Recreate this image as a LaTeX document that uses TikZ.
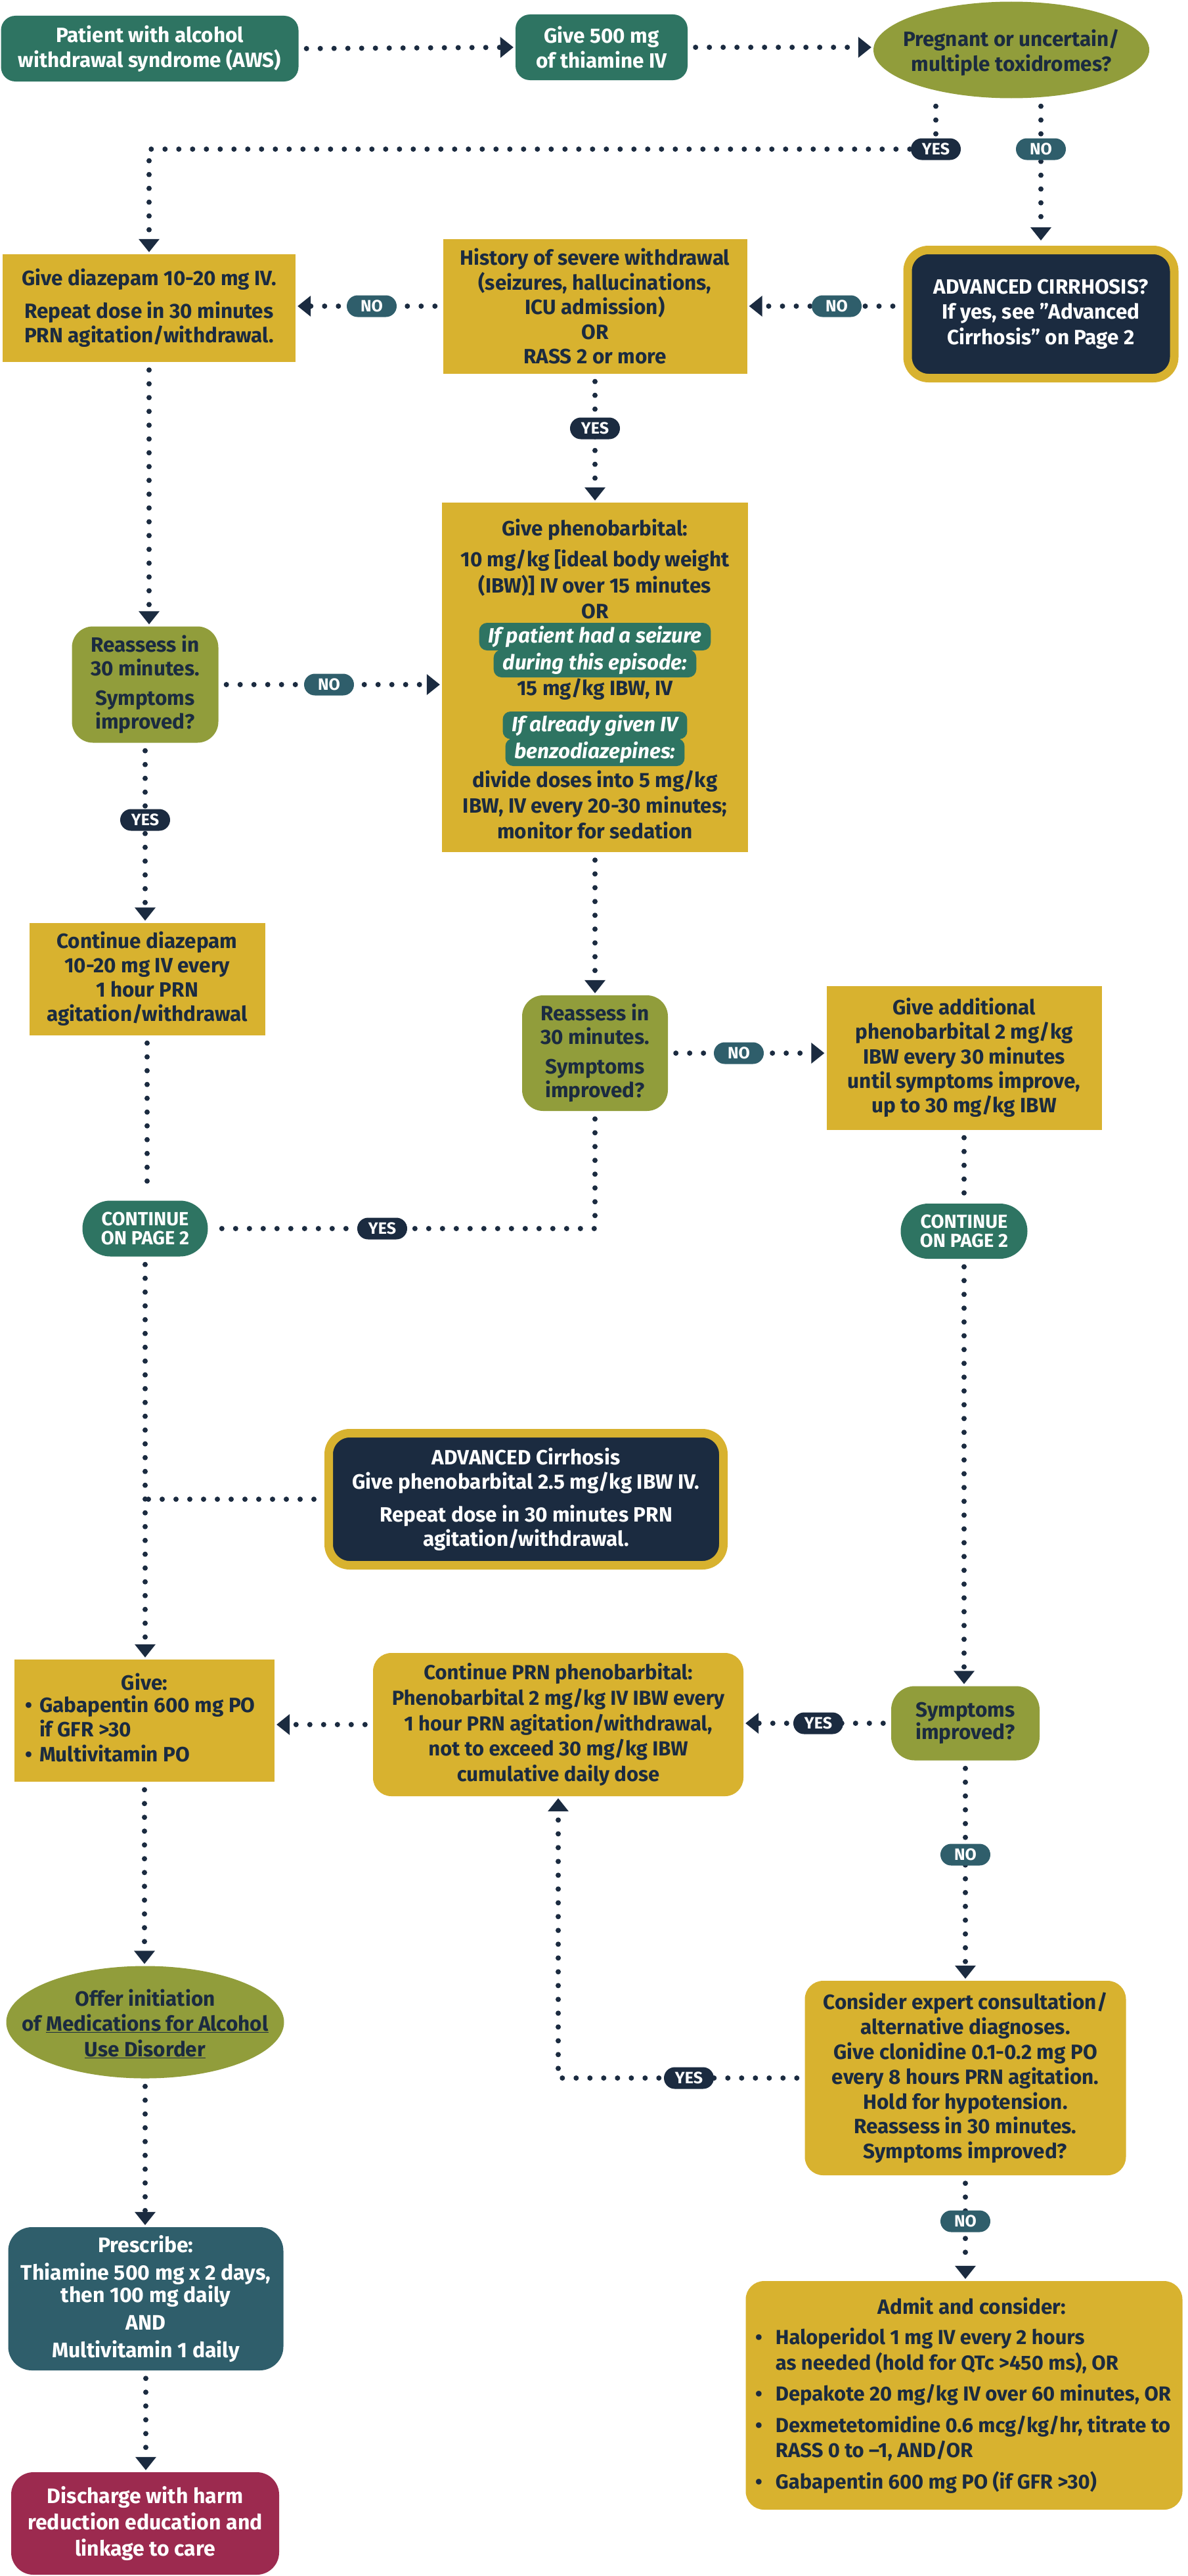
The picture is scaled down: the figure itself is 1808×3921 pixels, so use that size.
\documentclass[tikz,border=0pt]{standalone}
\usepackage{fontspec}
\setmainfont{Fira Sans}
\usetikzlibrary{arrows.meta,shapes.geometric,shapes.misc,backgrounds}
\definecolor{cGreen}{HTML}{2E7462}
\definecolor{cOlive}{HTML}{919D3B}
\definecolor{cGold}{HTML}{D8B22F}
\definecolor{cNavy}{HTML}{1B2B40}
\definecolor{cTeal}{HTML}{2F5E6B}
\definecolor{cMaroon}{HTML}{9C2A4F}
\newcommand\fsz[2]{\fontsize{#1}{#2}\selectfont\bfseries}
\newcommand\dq{{\char34}}
\tikzset{
 base/.style={inner sep=0pt, align=center, font=\fsz{31.5}{37.5}, text=cNavy},
 greenbox/.style={base, fill=cGreen, text=white, rounded corners=22pt},
 goldrect/.style={base, fill=cGold},
 goldround/.style={base, fill=cGold, rounded corners=28pt},
 olivebox/.style={base, fill=cOlive, rounded corners=32pt},
 advbox/.style={base, fill=cNavy, text=white, draw=cGold, line width=13pt, rounded corners=32pt},
 tealbox/.style={base, fill=cTeal, text=white, rounded corners=36pt},
 maroonbox/.style={base, fill=cMaroon, text=white, rounded corners=34pt},
 oval/.style={ellipse, fill=cOlive, inner sep=0pt},
 txt/.style={base},
 hlbox/.style={base, fill=cGreen, text=white, rounded corners=12pt, inner xsep=14pt, minimum height=42pt, font=\fsz{31.5}{37.5}\itshape},
 pill/.style={rounded rectangle, fill=cGreen, text=white, inner sep=0pt, align=center, font=\fsz{29}{29}},
 lbl/.style={rounded rectangle, text=white, inner sep=0pt, minimum width=76pt, minimum height=33pt, font=\fsz{25}{25}},
 yeslbl/.style={lbl, fill=cNavy},
 nolbl/.style={lbl, fill=cTeal},
 conn/.style={draw=cNavy, line width=8pt, line cap=round, dash pattern=on 0pt off 21pt, shorten <=12pt, shorten >=12pt},
 arr/.style={conn, shorten >=3pt, -{Triangle[width=32pt,length=20pt,line width=0pt]}},
}
\begin{document}
\begin{tikzpicture}[x=1pt,y=-1pt]
\useasboundingbox (0,0) rectangle (1808,3921);

% top row
\node[greenbox, minimum width=453, minimum height=100] (aws) at (228,74) {Patient with alcohol\\withdrawal syndrome (AWS)};
\node[greenbox, minimum width=262, minimum height=100] (thia) at (916,72) {Give 500 mg\\of thiamine IV};
\node[oval, minimum width=420, minimum height=147] (preg) at (1540,76) {};
\node[txt] (pregt) at (1540,80) {Pregnant or uncertain/\\multiple toxidromes?};

% row 2
\node[goldrect, minimum width=446, minimum height=164] (diaz) at (227,469) {Give diazepam 10-20 mg IV.\\[12pt]Repeat dose in 30 minutes\\PRN agitation/withdrawal.};
\node[goldrect, minimum width=463, minimum height=205] (hist) at (906,466) {History of severe withdrawal\\(seizures, hallucinations,\\ICU admission)\\OR\\RASS 2 or more};
\node[advbox, minimum width=406, minimum height=195, font=\fsz{31.5}{38.5}] (adv1) at (1585,478) {ADVANCED CIRRHOSIS?\\If yes, see \dq Advanced\\Cirrhosis\dq{} on Page 2};

% phenobarbital box
\node[goldrect, minimum width=466, minimum height=532] (pheno) at (906,1031) {};
\node[hlbox] (hla) at (906,969) {If patient had a seizure};
\node[hlbox] (hlb) at (906,1010) {during this episode:};
\node[hlbox] (hlc) at (906,1104) {If already given IV};
\node[hlbox] (hld) at (906,1145) {benzodiazepines:};
\node[txt, font=\fsz{31.5}{39.5}] (pt1) at (906,866) {Give phenobarbital:\\[8pt]10 mg/kg [ideal body weight\\(IBW)] IV over 15 minutes\\OR};
\node[txt] (pt2) at (906,1049) {15 mg/kg IBW, IV};
\node[txt, font=\fsz{31.5}{39}] (pt3) at (906,1225) {divide doses into 5 mg/kg\\IBW, IV every 20-30 minutes;\\monitor for sedation};

% reassess 1 and continue diazepam
\node[olivebox, minimum width=223, minimum height=177, font=\fsz{31.5}{36}] (re1) at (221,1042) {Reassess in\\30 minutes.\\[9pt]Symptoms\\improved?};
\node[goldrect, minimum width=359, minimum height=171, font=\fsz{31.5}{37}] (contd) at (224,1490) {Continue diazepam\\10-20 mg IV every\\1 hour PRN\\agitation/withdrawal};

% reassess 2 and additional
\node[olivebox, minimum width=222, minimum height=176, font=\fsz{31.5}{36}] (re2) at (906,1603) {Reassess in\\30 minutes.\\[9pt]Symptoms\\improved?};
\node[goldrect, minimum width=419, minimum height=219, font=\fsz{31.5}{37.3}] (add) at (1468,1610) {Give additional\\phenobarbital 2 mg/kg\\IBW every 30 minutes\\until symptoms improve,\\up to 30 mg/kg IBW};

% continue pills
\node[pill, minimum width=191, minimum height=85] (cont1) at (221,1870) {CONTINUE\\ON PAGE 2};
\node[pill, minimum width=193, minimum height=84] (cont2) at (1468,1874) {CONTINUE\\ON PAGE 2};

% advanced cirrhosis 2
\node[advbox, minimum width=601, minimum height=201] (adv2) at (801,2282) {ADVANCED Cirrhosis\\Give phenobarbital 2.5 mg/kg IBW IV.\\[12pt]Repeat dose in 30 minutes PRN\\agitation/withdrawal.};

% symptoms improved / PRN / give
\node[olivebox, rounded corners=36pt, minimum width=226, minimum height=113, font=\fsz{31.5}{34}] (symp) at (1470,2623) {Symptoms\\improved?};
\node[goldround, minimum width=564, minimum height=218, font=\fsz{31}{38.7}] (prn) at (850,2625) {Continue PRN phenobarbital:\\Phenobarbital 2 mg/kg IV IBW every\\1 hour PRN agitation/withdrawal,\\not to exceed 30 mg/kg IBW\\cumulative daily dose};
\node[goldrect, minimum width=396, minimum height=186] (give) at (220,2619) {};
\node[txt] (givet) at (220,2560) {Give:};
\node[txt, anchor=west, align=left] (givel) at (38,2636) {\begin{tabular}{@{}l@{\hspace{11pt}}l@{}}•&Gabapentin 600 mg PO\\&if GFR >30\\•&Multivitamin PO\end{tabular}};

% bottom left
\node[oval, minimum width=423, minimum height=171] (offer) at (221,3078) {};
\node[txt, font=\fsz{31.5}{38.5}] (offert) at (221,3080) {Offer initiation\\of \underline{Medications for Alcohol}\\\underline{Use Disorder}};
\node[tealbox, minimum width=419, minimum height=218, font=\fsz{32}{34}] (presc) at (222,3499) {Prescribe:\\[8pt]Thiamine 500 mg x 2 days,\\then 100 mg daily\\[8pt]AND\\[8pt]Multivitamin 1 daily};
\node[maroonbox, minimum width=408, minimum height=156, font=\fsz{32}{40}] (dis) at (221,3841) {Discharge with harm\\reduction education and\\linkage to care};

% bottom right
\node[goldround, minimum width=489, minimum height=296, font=\fsz{31.5}{37.8}] (cons) at (1470,3163) {Consider expert consultation/\\alternative diagnoses.\\Give clonidine 0.1-0.2 mg PO\\every 8 hours PRN agitation.\\Hold for hypotension.\\Reassess in 30 minutes.\\Symptoms improved?};
\node[goldround, minimum width=665, minimum height=348] (admit) at (1468,3646) {};
\node[txt] (admitt) at (1480,3510) {Admit and consider:};
\node[txt, anchor=west, align=left, font=\fsz{31}{38.5}] (admitl) at (1150,3671) {\begin{tabular}{@{}l@{\hspace{20pt}}l@{}}•&Haloperidol 1 mg IV every 2 hours\\&as needed (hold for QTc >450 ms), OR\\[9pt]•&Depakote 20 mg/kg IV over 60 minutes, OR\\[9pt]•&Dexmetetomidine 0.6 mcg/kg/hr, titrate to\\&RASS 0 to –1, AND/OR\\[9pt]•&Gabapentin 600 mg PO (if GFR >30)\end{tabular}};

% labels
\node[yeslbl] (y1) at (1425,227) {YES};
\node[nolbl] (n1) at (1585,227) {NO};
\node[nolbl] (n2) at (1274,466) {NO};
\node[nolbl] (n3) at (566,466) {NO};
\node[yeslbl] (y2) at (906,652) {YES};
\node[nolbl] (n4) at (501,1042) {NO};
\node[yeslbl] (y3) at (221,1248) {YES};
\node[nolbl] (n5) at (1125,1603) {NO};
\node[yeslbl] (y4) at (582,1870) {YES};
\node[yeslbl] (y5) at (1246,2623) {YES};
\node[nolbl] (n6) at (1470,2823) {NO};
\node[yeslbl] (y6) at (1049,3163) {YES};
\node[nolbl] (n7) at (1470,3381) {NO};

\begin{scope}[on background layer]
\fill[white] (0,0) rectangle (1808,3921);
\draw[arr] (aws.east) -- (thia.west);
\draw[arr] (thia.east) -- (thia.east -| preg.west);
\draw[arr] (preg.south -| y1) -- (y1.center) -- (y1 -| diaz.north) -- (diaz.north);
\draw[arr, shorten >=8pt] (preg.south -| n1) -- (adv1.north);
\draw[arr, shorten <=16pt] (adv1.west |- hist.east) -- (hist.east);
\draw[arr] (hist.west) -- (hist.west -| diaz.east);
\draw[arr] (hist.south) -- (hist.south |- pheno.north);
\draw[arr] (diaz.south) -- (diaz.south |- re1.north);
\draw[arr] (re1.east) -- (re1.east -| pheno.west);
\draw[arr] (re1.south) -- (re1.south |- contd.north);
\draw[conn] (contd.south) -- (contd.south |- cont1.north);
\draw[arr] (pheno.south) -- (pheno.south |- re2.north);
\draw[arr] (re2.east) -- (re2.east -| add.west);
\draw[conn] (re2.south) -- (re2.south |- cont1.east) -- (cont1.east);
\draw[conn] (add.south) -- (add.south |- cont2.north);
\draw[arr] (cont1.south) -- (cont1.south |- give.north);
\draw[conn, shorten <=16pt, shorten >=0pt] (adv2.west) -- (adv2.west -| cont1.south);
\draw[arr] (cont2.south) -- (cont2.south |- symp.north);
\draw[arr] (symp.west) -- (symp.west -| prn.east);
\draw[arr] (prn.west) -- (prn.west -| give.east);
\draw[arr] (symp.south) -- (symp.south |- cons.north);
\draw[arr] (cons.west) -- (cons.west -| prn.south) -- (prn.south);
\draw[arr] (cons.south) -- (cons.south |- admit.north);
\draw[arr] (give.south) -- (give.south |- offer.north);
\draw[arr] (offer.south) -- (offer.south |- presc.north);
\draw[arr] (presc.south) -- (presc.south |- dis.north);
\end{scope}
\end{tikzpicture}
\end{document}
